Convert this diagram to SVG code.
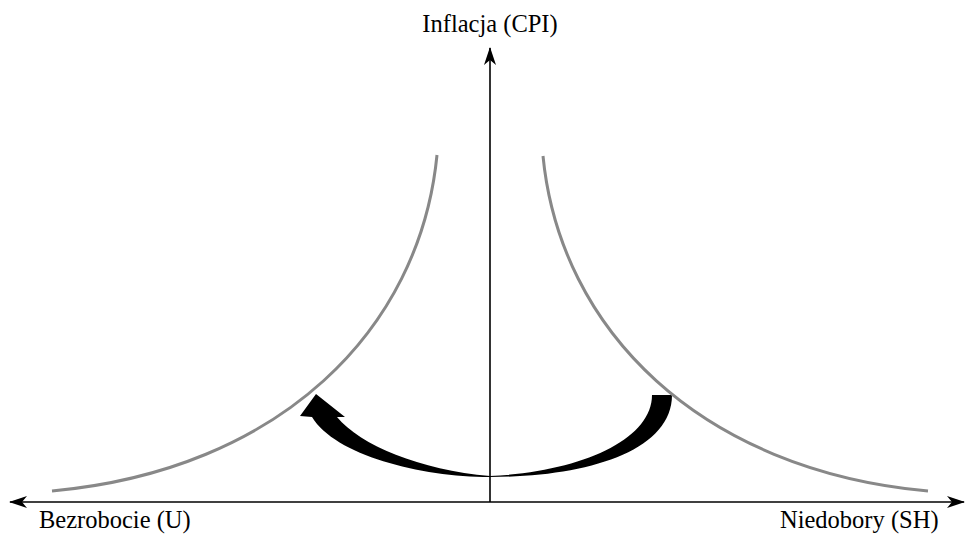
<svg xmlns="http://www.w3.org/2000/svg" width="966" height="534" viewBox="0 0 966 534">
<style>
.axis{stroke:#000;stroke-width:1.6;fill:none}
.curve{stroke:#888;stroke-width:3;fill:none}
.lbl{font-family:"Liberation Serif","Times New Roman",serif;font-size:24.5px;fill:#000}
</style>
<defs>
<marker id="ah" viewBox="0 0 18 12" refX="17" refY="6" markerWidth="18" markerHeight="12" markerUnits="userSpaceOnUse" orient="auto-start-reverse">
<path d="M0,0 L18,6 L0,12 L5,6 Z" fill="#000"/>
</marker>
</defs>
<g id="connectors">
<line class="axis" x1="10" y1="502" x2="964" y2="502" marker-start="url(#ah)" marker-end="url(#ah)"/>
<line class="axis" x1="490" y1="502" x2="490" y2="48" marker-end="url(#ah)"/>
<path id="shift-arrow" fill="#000" d="M652,395 L672,395 C672,452 585,477 490,477 C420,477 335,455 312,417 L300,416 L316,394 L345,417 L337,417 C360,445 420,470 490,476 C580,472 652,440 652,395 Z"/>
</g>
<g id="curve-left"><path class="curve" d="M437,155 C420,330 280,470 52,491"/></g>
<g id="curve-right"><path class="curve" d="M543,156 C560,330 700,470 928,491"/></g>
<g id="label-y"><text class="lbl" x="490" y="32" text-anchor="middle">Inflacja (CPI)</text></g>
<g id="label-left"><text class="lbl" x="39" y="528">Bezrobocie (U)</text></g>
<g id="label-right"><text class="lbl" x="780" y="528">Niedobory (SH)</text></g>
</svg>
